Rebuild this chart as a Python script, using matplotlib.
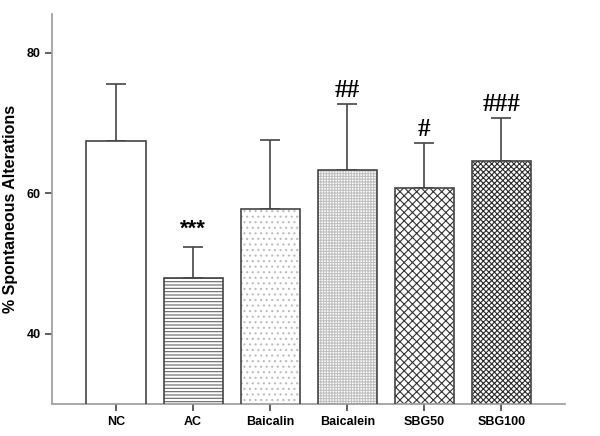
import matplotlib.pyplot as plt
import numpy as np

plt.rcParams['font.family'] = ['Liberation Sans', 'DejaVu Sans']

groups = ['NC', 'AC', 'Baicalin', 'Baicalein', 'SBG50', 'SBG100']
means = [67.5, 48.0, 57.8, 63.3, 60.8, 64.6]
err_top = [75.6, 52.4, 67.6, 72.7, 67.1, 70.7]
marks = ['', '***', '', '##', '#', '###']
hatches = ['', '-----', '...', '++++++', 'xxxx', 'xxxxxx']
hatch_cols = ['white', '#666666', '#bbbbbb', '#c0c0c0', '#333333', '#2a2a2a']

fig = plt.figure(figsize=(6, 4.36), dpi=100)
ax = fig.add_axes([0.087, 0.073, 0.855, 0.895])

x = np.arange(len(groups))
errs = np.array(err_top) - np.array(means)
plt.rcParams['hatch.linewidth'] = 0.8
for i in range(len(groups)):
    ax.bar(x[i], means[i], width=0.77, color='white', edgecolor=hatch_cols[i],
           hatch=hatches[i], linewidth=0, zorder=2)
ax.bar(x, means, width=0.77, color='none', edgecolor='#444444', linewidth=1.2, zorder=3)
ax.errorbar(x, means, yerr=[np.zeros(len(x)), errs], fmt='none', ecolor='#444444',
            elinewidth=1.2, capsize=7, capthick=1.2, zorder=1)

for i in range(len(groups)):
    if marks[i]:
        if '*' in marks[i]:
            ax.text(x[i], err_top[i] + 1.0, marks[i], ha='center', va='bottom',
                    fontsize=16, fontweight='bold')
        else:
            ax.text(x[i], err_top[i] + 0.3, marks[i], ha='center', va='bottom',
                    fontsize=18, fontweight='bold', family=['Liberation Serif'])

ax.set_xlim(-0.83, 5.83)
ax.set_ylim(30, 85.5)
ax.set_yticks([40, 60, 80])
ax.set_xticks(x)
ax.set_xticklabels(groups, fontweight='bold', fontsize=9)
for lab in ax.get_yticklabels():
    lab.set_fontweight('bold')
    lab.set_fontsize(9)
ax.set_ylabel('% Spontaneous Alterations', fontsize=11.5, fontweight='bold', labelpad=6)

for s in ['top', 'right']:
    ax.spines[s].set_visible(False)
for s in ['left', 'bottom']:
    ax.spines[s].set_color('#999999')
    ax.spines[s].set_linewidth(1.2)
ax.tick_params(axis='both', direction='out', length=5, width=1.2, color='#444444')

plt.savefig('out.png', dpi=100)
